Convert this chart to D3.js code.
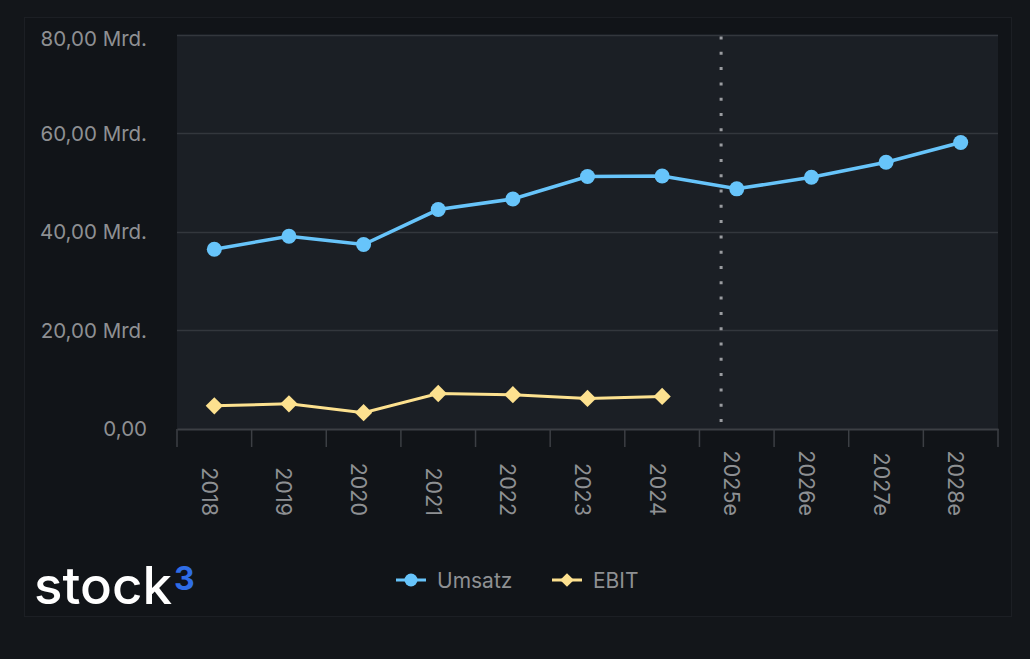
<!DOCTYPE html>
<html>
<head>
<meta charset="utf-8">
<script src="https://cdn.jsdelivr.net/npm/d3@7/dist/d3.min.js"></script>
<style>
  html, body { margin: 0; padding: 0; background: #13161a; }
  svg { display: block; }
</style>
</head>
<body>
<svg id="chart" width="1030" height="659"></svg>
<script>
const categories = ["2018","2019","2020","2021","2022","2023","2024","2025e","2026e","2027e","2028e"];
const umsatz = [36.45, 39.1, 37.4, 44.5, 46.65, 51.2, 51.3, 48.7, 51.05, 54.1, 58.1];
const ebit   = [4.7, 5.1, 3.3, 7.2, 6.95, 6.2, 6.6, null, null, null, null];
const yTicks = [0, 20, 40, 60, 80];
const seriesNames = ["Umsatz", "EBIT"];
const forecastStart = "2025e";

const svg = d3.select("#chart");
const W = 1030, H = 659;
const FONT = "Inter, 'Liberation Sans', Arial, sans-serif";
const TEXT = "#8e9093";
const BLUE = "#67c4fa";
const YELLOW = "#fde18f";

// backgrounds
svg.append("rect").attr("width", W).attr("height", H).attr("fill", "#13161a");
svg.append("rect").attr("x", 24.5).attr("y", 17.5).attr("width", 987).attr("height", 599)
  .attr("fill", "#111418").attr("stroke", "#1c1f24").attr("stroke-width", 1);

const plot = {left: 177, right: 998, top: 34.5, bottom: 429};
svg.append("rect").attr("x", plot.left).attr("y", plot.top)
  .attr("width", plot.right - plot.left).attr("height", plot.bottom - plot.top)
  .attr("fill", "#1b1f25");

const x = d3.scaleBand().domain(categories).range([plot.left, plot.right]).padding(0);
const y = d3.scaleLinear().domain([0, 80]).range([plot.bottom, plot.top]);
const cx = c => x(c) + x.bandwidth() / 2;

// gridlines
svg.append("g").selectAll("line").data(yTicks.filter(t => t > 0)).join("line")
  .attr("x1", plot.left).attr("x2", plot.right)
  .attr("y1", d => Math.round(y(d)) + 0.5).attr("y2", d => Math.round(y(d)) + 0.5)
  .attr("stroke", "#33373d").attr("stroke-width", 1.5);

// y labels
const fmt = v => v === 0 ? "0,00" : d3.format(".2f")(v).replace(".", ",") + " Mrd.";
svg.append("g").selectAll("text").data(yTicks).join("text")
  .attr("x", 147).attr("y", d => Math.max(y(d), 38.5))
  .attr("dy", "0.36em").attr("text-anchor", "end")
  .attr("font-family", FONT).attr("font-size", 20.5).attr("fill", TEXT)
  .text(fmt);

// x axis
const xAxis = d3.axisBottom(x).tickSize(0).tickFormat("");
const gx = svg.append("g").attr("transform", `translate(0,${plot.bottom})`).call(xAxis);
gx.select(".domain").attr("stroke", "#3c3f44").attr("stroke-width", 2);
const bounds = categories.map(c => x(c)).concat([plot.right]);
svg.append("g").selectAll("line").data(bounds).join("line")
  .attr("x1", d => d).attr("x2", d => d)
  .attr("y1", plot.bottom).attr("y2", plot.bottom + 18)
  .attr("stroke", "#3c3f44").attr("stroke-width", 1.5);
svg.append("g").selectAll("text").data(categories).join("text")
  .attr("transform", d => `translate(${cx(d) - 12.5},516) rotate(90)`)
  .attr("text-anchor", "end")
  .attr("font-family", FONT).attr("font-size", 21.5).attr("fill", TEXT)
  .text(d => d);

// forecast marker (dotted)
const fx = x(forecastStart) + x.bandwidth() * 0.29;
svg.append("line").attr("x1", fx).attr("x2", fx)
  .attr("y1", plot.top + 2).attr("y2", plot.bottom - 6)
  .attr("stroke", "#9a9ca0").attr("stroke-width", 3)
  .attr("stroke-dasharray", "3,12.3");

// lines
const line = d3.line().defined(d => d.v != null).x(d => cx(d.c)).y(d => y(d.v));
const uData = categories.map((c, i) => ({c, v: umsatz[i]}));
const eData = categories.map((c, i) => ({c, v: ebit[i]})).filter(d => d.v != null);

svg.append("path").datum(eData).attr("d", line)
  .attr("fill", "none").attr("stroke", YELLOW).attr("stroke-width", 3);
svg.append("g").selectAll("path").data(eData).join("path")
  .attr("transform", d => `translate(${cx(d.c)},${y(d.v)})`)
  .attr("d", d3.symbol(d3.symbolDiamond2, 190)())
  .attr("fill", YELLOW);

svg.append("path").datum(uData).attr("d", line)
  .attr("fill", "none").attr("stroke", BLUE).attr("stroke-width", 3.5);
svg.append("g").selectAll("circle").data(uData).join("circle")
  .attr("cx", d => cx(d.c)).attr("cy", d => y(d.v)).attr("r", 7.5)
  .attr("fill", BLUE);

// legend
const lg = svg.append("g");
lg.append("line").attr("x1", 396).attr("x2", 426).attr("y1", 580).attr("y2", 580)
  .attr("stroke", BLUE).attr("stroke-width", 3);
lg.append("circle").attr("cx", 411).attr("cy", 580).attr("r", 6.5).attr("fill", BLUE);
lg.append("text").attr("x", 437).attr("y", 580).attr("dy", "0.36em")
  .attr("font-family", FONT).attr("font-size", 21).attr("fill", TEXT).text(seriesNames[0]);
lg.append("line").attr("x1", 552).attr("x2", 582).attr("y1", 580).attr("y2", 580)
  .attr("stroke", YELLOW).attr("stroke-width", 3);
lg.append("path").attr("transform", "translate(567,580)")
  .attr("d", d3.symbol(d3.symbolDiamond2, 120)()).attr("fill", YELLOW);
lg.append("text").attr("x", 593).attr("y", 580).attr("dy", "0.36em")
  .attr("font-family", FONT).attr("font-size", 21).attr("fill", TEXT).text(seriesNames[1]);

// logo
svg.append("text").attr("x", 34).attr("y", 604)
  .attr("font-family", FONT).attr("font-size", 52).attr("font-weight", 500)
  .attr("fill", "#ffffff").attr("textLength", 138).attr("lengthAdjust", "spacingAndGlyphs")
  .text("stock");
svg.append("text").attr("x", 174).attr("y", 590)
  .attr("font-family", FONT).attr("font-size", 32).attr("font-weight", 700)
  .attr("fill", "#2f6de6").text("3");
</script>
</body>
</html>
